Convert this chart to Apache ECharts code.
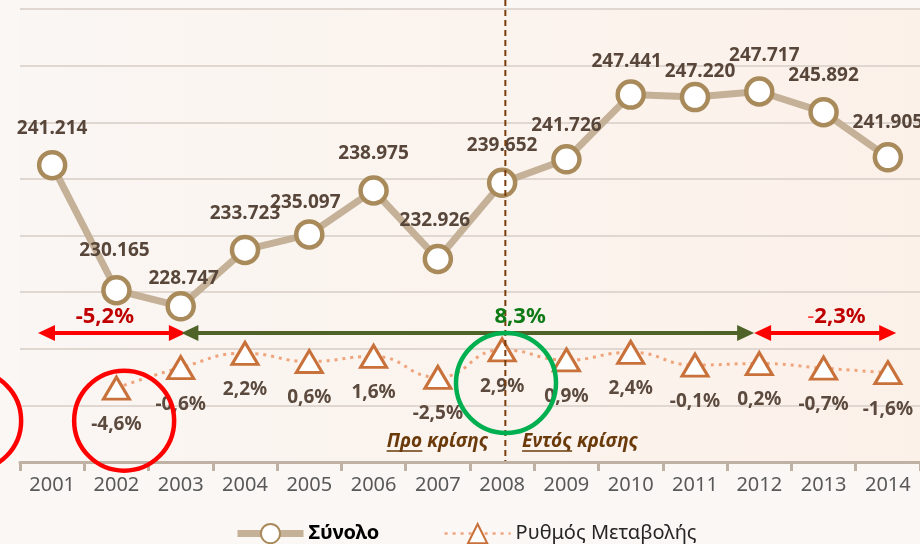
<!DOCTYPE html>
<html>
<head>
<meta charset="utf-8">
<script src="https://cdn.jsdelivr.net/npm/echarts@6/dist/echarts.min.js"></script>
<style>
html,body{margin:0;padding:0;background:#faf7f4;}
#c{width:920px;height:544px;}
</style>
</head>
<body>
<div id="c"></div>
<script>
// ---- data ----
const years = ['2001','2002','2003','2004','2005','2006','2007','2008','2009','2010','2011','2012','2013','2014'];
const totals = [241214, 230165, 228747, 233723, 235097, 238975, 232926, 239652, 241726, 247441, 247220, 247717, 245892, 241905];
const rates = [null, -4.6, -0.6, 2.2, 0.6, 1.6, -2.5, 2.9, 0.9, 2.4, -0.1, 0.2, -0.7, -1.6];
const seriesNames = ['Σύνολο', 'Ρυθμός Μεταβολής'];
const periodLabels = ['-5,2%', '8,3%', '-2,3%'];
const crisisLabels = ['Προ κρίσης', 'Εντός κρίσης'];

// ---- layout (label nudges, annotation anchors in axis units) ----
const totalLabelNudge = [[0,-37],[-2,-40],[3,-28],[0,-36],[-4,-32],[0,-37],[-3,-38],[0,-37],[0,-34],[-4,-33],[5,-26],[5,-36],[0,-37],[0,-35]];

const FONT = '"Noto Sans", "DejaVu Sans", sans-serif';
const fmtTotal = v => {
  const s = String(Math.round(v));
  return s.replace(/\B(?=(\d{3})+(?!\d))/g, '.');
};
const fmtRate = v => v.toFixed(1).replace('.', ',') + '%';

const chart = echarts.init(document.getElementById('c'), null, {renderer: 'canvas'});

const option = {
  backgroundColor: '#faf7f4',
  animation: false,
  grid: {
    left: 20, right: -2, top: 9, bottom: 82,
    show: true, borderWidth: 0,
    backgroundColor: new echarts.graphic.LinearGradient(0, 0, 1, 0, [
      {offset: 0, color: '#faf6f3'},
      {offset: 1, color: '#fcf1e9'}
    ])
  },
  legend: {
    top: 518, left: 229,
    itemWidth: 66, itemHeight: 24, itemGap: 64,
    textStyle: {fontFamily: FONT, fontSize: 20, color: '#262626'},
    data: [
      {name: seriesNames[0], textStyle: {fontWeight: 'bold', color: '#000'}, lineStyle: {width: 7}},
      {name: seriesNames[1], lineStyle: {width: 2.5}}
    ]
  },
  xAxis: {
    type: 'category',
    data: years,
    boundaryGap: true,
    axisLine: {onZero: false, lineStyle: {color: '#bfb1a3', width: 3}},
    axisTick: {show: true, length: 9, lineStyle: {color: '#bfb1a3', width: 3}},
    axisLabel: {fontFamily: FONT, fontSize: 20, color: '#595959', margin: 13},
    splitLine: {show: false}
  },
  yAxis: [
    {
      type: 'value', min: 215000, max: 255000, interval: 5000,
      axisLine: {show: false}, axisTick: {show: false}, axisLabel: {show: false},
      splitLine: {lineStyle: {color: '#e0d8d0', width: 2}}
    },
    {
      type: 'value', min: -19.1, max: 69.7,
      axisLine: {show: false}, axisTick: {show: false}, axisLabel: {show: false},
      splitLine: {show: false}
    }
  ],
  series: [
    {
      name: seriesNames[0],
      type: 'line',
      yAxisIndex: 0,
      z: 3,
      data: totals.map((v, i) => ({value: v, label: {offset: totalLabelNudge[i]}})),
      symbol: 'circle',
      symbolSize: 26,
      itemStyle: {color: '#ffffff', borderColor: '#a98a5b', borderWidth: 4.5},
      lineStyle: {color: '#c5b198', width: 7},
      label: {
        show: true, position: 'inside',
        fontFamily: FONT, fontSize: 19, fontWeight: 'bold', color: '#574639',
        formatter: p => fmtTotal(p.value)
      }
    },
    {
      name: seriesNames[1],
      type: 'line',
      yAxisIndex: 1,
      z: 2,
      data: rates,
      smooth: 0.5,
      connectNulls: false,
      symbol: 'triangle',
      symbolSize: [26, 22],
      itemStyle: {color: '#ffffff', borderColor: '#c8713a', borderWidth: 3},
      lineStyle: {color: '#f0a47c', width: 3, type: [3, 5]},
      label: {
        show: true, position: 'inside', offset: [0, 36.5],
        fontFamily: FONT, fontSize: 19, fontWeight: 'bold', color: '#5b4a3d',
        formatter: p => fmtRate(p.value)
      }
    }
  ]
};
chart.setOption(option);

// ---- annotations anchored to axis coordinates ----
const x0 = chart.convertToPixel({xAxisIndex: 0}, years[0]);
const x1 = chart.convertToPixel({xAxisIndex: 0}, years[1]);
const px = i => x0 + (x1 - x0) * i;
const py = v => chart.convertToPixel({yAxisIndex: 0}, v);

const arrowY = py(226390);
const labelY = py(227800);
const arrows = [
  {from: -0.22, to: 2.08, color: '#ff0000'},
  {from: 10.92, to: 13.13, color: '#ff0000'},
  {from: 2.01, to: 10.92, color: '#4f6228'}
];
const els = [];
arrows.forEach(a => {
  const xa = px(a.from), xb = px(a.to), L = 17, h = 8;
  els.push({type: 'line', z: 50, shape: {x1: xa + L - 2, y1: arrowY, x2: xb - L + 2, y2: arrowY},
    style: {stroke: a.color, lineWidth: 4}});
  els.push({type: 'polygon', z: 51, shape: {points: [[xa, arrowY], [xa + L, arrowY - h], [xa + L, arrowY + h]]},
    style: {fill: a.color}});
  els.push({type: 'polygon', z: 51, shape: {points: [[xb, arrowY], [xb - L, arrowY - h], [xb - L, arrowY + h]]},
    style: {fill: a.color}});
});

const pctFont = 'bold 22px ' + FONT;
els.push({type: 'text', z: 52, x: px(0.82), y: labelY,
  style: {text: periodLabels[0], font: pctFont, fill: '#c00000', align: 'center', verticalAlign: 'middle'}});
els.push({type: 'text', z: 52, x: px(7.28), y: labelY,
  style: {text: periodLabels[1], font: pctFont, fill: '#0e7a16', align: 'center', verticalAlign: 'middle'}});
els.push({type: 'text', z: 52, x: px(12.2), y: labelY,
  style: {text: '{a|' + periodLabels[2].slice(0, 1) + '}{b|' + periodLabels[2].slice(1) + '}',
    align: 'center', verticalAlign: 'middle',
    rich: {
      a: {font: 'normal 22px ' + FONT, fill: '#ff3b3b', color: '#ff3b3b'},
      b: {font: pctFont, fill: '#c00000', color: '#c00000'}
    }}});

// vertical crisis divider
const vx = px(7.05);
els.push({type: 'line', z: 40, shape: {x1: vx, y1: 0, x2: vx, y2: py(215000) - 1},
  style: {stroke: '#7a3d0a', lineWidth: 2, lineDash: [6, 4]}});

// circles
const circleY1 = py(218650);
els.push({type: 'circle', z: 60, shape: {cx: px(1.12), cy: circleY1, r: 50},
  style: {fill: 'none', stroke: '#ff0000', lineWidth: 4.5}});
els.push({type: 'circle', z: 60, shape: {cx: px(-1.26), cy: circleY1, r: 50},
  style: {fill: 'none', stroke: '#ff0000', lineWidth: 4.5}});
els.push({type: 'circle', z: 60, shape: {cx: px(7.06), cy: py(221980), r: 50},
  style: {fill: 'none', stroke: '#00b050', lineWidth: 4.5}});

// crisis texts with underlined first word
const cFont = 'italic bold 19px ' + FONT;
const ctx = document.createElement('canvas').getContext('2d');
ctx.font = cFont;
const cy = py(216770);
const preRight = px(6.79);
const preW = ctx.measureText(crisisLabels[0]).width;
const preWord = crisisLabels[0].split(' ')[0];
const preWordW = ctx.measureText(preWord).width;
els.push({type: 'text', z: 52, x: preRight, y: cy,
  style: {text: crisisLabels[0], font: cFont, fill: '#6b3a0b', align: 'right', verticalAlign: 'middle'}});
els.push({type: 'line', z: 52, shape: {x1: preRight - preW, y1: cy + 9, x2: preRight - preW + preWordW, y2: cy + 9},
  style: {stroke: '#6b3a0b', lineWidth: 1.5}});
const inLeft = px(7.31);
const inWord = crisisLabels[1].split(' ')[0];
const inWordW = ctx.measureText(inWord).width;
els.push({type: 'text', z: 52, x: inLeft, y: cy,
  style: {text: crisisLabels[1], font: cFont, fill: '#6b3a0b', align: 'left', verticalAlign: 'middle'}});
els.push({type: 'line', z: 52, shape: {x1: inLeft, y1: cy + 9, x2: inLeft + inWordW, y2: cy + 9},
  style: {stroke: '#6b3a0b', lineWidth: 1.5}});

chart.setOption({graphic: {elements: els}});
</script>
</body>
</html>
